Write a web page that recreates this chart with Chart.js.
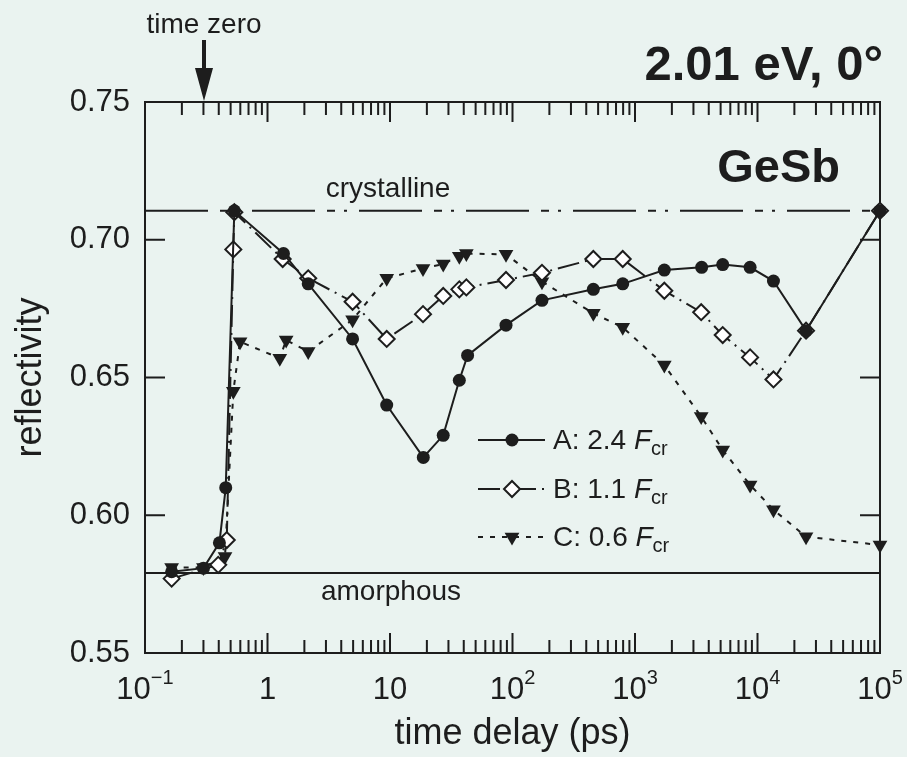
<!DOCTYPE html>
<html>
<head>
<meta charset="utf-8">
<script src="https://cdn.jsdelivr.net/npm/chart.js@4.4.1/dist/chart.umd.min.js"></script>
<style>
  html, body { margin: 0; padding: 0; background: #eaf3f0; }
  #wrap { width: 907px; height: 757px; position: relative; }
</style>
</head>
<body>
<div id="wrap"><canvas id="reflChart"></canvas></div>
<script>
// ----- Data: time delay (ps) and reflectivity
const timesA = [0.165, 0.30, 0.405, 0.456, 0.536, 1.35, 2.15, 4.95, 9.4, 18.7, 27.2, 36.8, 43, 88.5, 174, 457, 794, 1735, 3500, 5200, 8700, 13500, 24900, 100000];
const reflA  = [0.5795, 0.5808, 0.590, 0.610, 0.7105, 0.695, 0.684, 0.664, 0.640, 0.621, 0.629, 0.649, 0.658, 0.669, 0.678, 0.682, 0.684, 0.689, 0.690, 0.691, 0.690, 0.685, 0.667, 0.7105];

const timesB = [0.165, 0.396, 0.465, 0.526, 0.536, 1.33, 2.15, 4.95, 9.4, 18.6, 27.2, 36.8, 42, 88.5, 174, 457, 794, 1735, 3470, 5200, 8700, 13500, 24900, 100000];
const reflB  = [0.577, 0.582, 0.591, 0.6965, 0.710, 0.693, 0.686, 0.6775, 0.664, 0.673, 0.6796, 0.682, 0.6827, 0.6854, 0.688, 0.693, 0.693, 0.6815, 0.6737, 0.6654, 0.6573, 0.6493, 0.667, 0.7105];

const timesC = [0.165, 0.30, 0.45, 0.526, 0.597, 1.26, 1.42, 2.15, 4.95, 9.4, 18.6, 27.2, 36.8, 42, 88.5, 174, 457, 794, 1735, 3470, 5200, 8700, 13500, 24900, 100000];
const reflC  = [0.581, 0.581, 0.585, 0.645, 0.663, 0.657, 0.6636, 0.6594, 0.671, 0.686, 0.6896, 0.6912, 0.694, 0.695, 0.6947, 0.6848, 0.6733, 0.6682, 0.6545, 0.6358, 0.6237, 0.611, 0.602, 0.5922, 0.5892];

const crystallineLevel = 0.7105;
const amorphousLevel = 0.579;

// x axis: decades and their labels (base, exponent)
const decades = [-1, 0, 1, 2, 3, 4, 5];
const decadeLabels = [['10', '\u22121'], ['1', ''], ['10', ''], ['10', '2'], ['10', '3'], ['10', '4'], ['10', '5']];
const minorSteps = [2, 3, 4, 5, 6, 7, 8, 9];

const legendNames = ['A: 2.4 ', 'B: 1.1 ', 'C: 0.6 '];

const ink = '#1d1d1d';
const bg = '#eaf3f0';
const FONT = '"Liberation Sans", Arial, Helvetica, sans-serif';

const dashA = [];
const dashB = [22, 6, 2, 6];
const dashC = [5, 7];
const dashCryst = [63, 12, 8, 9, 3, 12];

function pts(xs, ys) { return xs.map((x, i) => ({ x, y: ys[i] })); }
const xMin = 10 ** decades[0], xMax = 10 ** decades[decades.length - 1];

// ----- small marker helpers for the hand-drawn legend
function mark(c, style, x, y) {
    c.save();
    c.setLineDash([]);
    c.fillStyle = ink; c.strokeStyle = ink; c.lineWidth = 2;
    c.beginPath();
    if (style === 'circle') {
        c.arc(x, y, 6.5, 0, Math.PI * 2); c.fill();
    } else if (style === 'diamond') {
        c.moveTo(x, y - 8); c.lineTo(x + 8, y); c.lineTo(x, y + 8); c.lineTo(x - 8, y); c.closePath();
        c.fillStyle = '#fff'; c.fill(); c.stroke();
    } else {
        c.moveTo(x - 7.4, y - 4.25); c.lineTo(x + 7.4, y - 4.25); c.lineTo(x, y + 8.5); c.closePath(); c.fill();
    }
    c.restore();
}

const decor = {
    id: 'decor',
    beforeDraw(chart) {
        const c = chart.ctx;
        c.save(); c.fillStyle = bg; c.fillRect(0, 0, chart.width, chart.height); c.restore();
    },
    beforeDatasetsDraw(chart) {
        const { ctx: c, chartArea: a, scales: { x, y } } = chart;
        c.save();
        c.strokeStyle = ink; c.lineWidth = 2;
        c.strokeRect(a.left, a.top, a.right - a.left, a.bottom - a.top);
        c.beginPath();
        decades.forEach((d, i) => {
            const px = x.getPixelForValue(10 ** d);
            c.moveTo(px, a.bottom); c.lineTo(px, a.bottom - 20);
            c.moveTo(px, a.top); c.lineTo(px, a.top + 20);
            if (i < decades.length - 1) {
                minorSteps.forEach(m => {
                    const p = x.getPixelForValue(m * 10 ** d);
                    c.moveTo(p, a.bottom); c.lineTo(p, a.bottom - 13);
                    c.moveTo(p, a.top); c.lineTo(p, a.top + 13);
                });
            }
        });
        y.ticks.forEach(t => {
            const py = y.getPixelForValue(t.value);
            c.moveTo(a.left, py); c.lineTo(a.left + 20, py);
            c.moveTo(a.right, py); c.lineTo(a.right - 20, py);
        });
        c.stroke();
        c.restore();
    },
    afterDatasetsDraw(chart) {
        const { ctx: c, scales: { x } } = chart;
        c.save();
        c.fillStyle = ink;
        c.textBaseline = 'alphabetic';

        // x tick labels with superscripts
        decades.forEach((d, i) => {
            const [base, sup] = decadeLabels[i];
            const px = x.getPixelForValue(10 ** d);
            c.font = `31px ${FONT}`;
            const wb = c.measureText(base).width;
            c.font = `20px ${FONT}`;
            const ws = sup ? c.measureText(sup).width : 0;
            const x0 = px - (wb + ws) / 2;
            c.textAlign = 'left';
            c.font = `31px ${FONT}`;
            c.fillText(base, x0, 699);
            if (sup) { c.font = `20px ${FONT}`; c.fillText(sup, x0 + wb, 684); }
        });

        // reference-level labels
        c.textAlign = 'center';
        c.font = `28px ${FONT}`;
        c.fillText('crystalline', 388, 197);
        c.fillText('amorphous', 391, 600);

        c.textAlign = 'right';
        c.font = `bold 47px ${FONT}`;
        c.fillText('GeSb', 840, 182);
        c.font = `bold 49px ${FONT}`;
        c.fillText('2.01 eV, 0\u00b0', 883, 80);

        // time zero marker
        c.textAlign = 'center';
        c.font = `28px ${FONT}`;
        c.fillText('time zero', 204, 33);
        c.fillRect(202, 40, 4, 30);
        c.beginPath();
        c.moveTo(195, 68); c.lineTo(213, 68); c.lineTo(204, 101); c.closePath(); c.fill();

        // legend
        const rows = [440, 489, 537];
        const dashes = [dashA, dashB, dashC];
        const styles = ['circle', 'diamond', 'triangle'];
        rows.forEach((ry, i) => {
            c.save();
            c.strokeStyle = ink; c.lineWidth = 2; c.setLineDash(dashes[i]);
            c.beginPath(); c.moveTo(478, ry); c.lineTo(545, ry); c.stroke();
            c.restore();
            mark(c, styles[i], 512, ry);
            let tx = 553;
            const yb = ry + 9;
            c.textAlign = 'left';
            c.font = `28px ${FONT}`;
            c.fillText(legendNames[i], tx, yb); tx += c.measureText(legendNames[i]).width;
            c.font = `italic 28px ${FONT}`;
            c.fillText('F', tx, yb); tx += c.measureText('F').width;
            c.font = `20px ${FONT}`;
            c.fillText('cr', tx, yb + 6);
        });
        c.restore();
    }
};

const ctx = document.getElementById('reflChart');
new Chart(ctx, {
    type: 'line',
    data: {
        datasets: [
            {
                label: 'A', data: pts(timesA, reflA),
                borderColor: ink, borderWidth: 2, borderDash: dashA,
                pointStyle: 'circle', pointRadius: 6.5, pointBackgroundColor: ink, pointBorderColor: ink, pointBorderWidth: 0,
                clip: false
            },
            {
                label: 'B', data: pts(timesB, reflB),
                borderColor: ink, borderWidth: 2, borderDash: dashB,
                pointStyle: 'rectRot', pointRadius: 8, pointBackgroundColor: '#fff', pointBorderColor: ink, pointBorderWidth: 2,
                clip: false
            },
            {
                label: 'C', data: pts(timesC, reflC),
                borderColor: ink, borderWidth: 2, borderDash: dashC,
                pointStyle: 'triangle', pointRotation: 180, pointRadius: 8.5, pointBackgroundColor: ink, pointBorderColor: ink, pointBorderWidth: 0,
                clip: false
            },
            {
                label: 'crystalline', data: pts([xMin, xMax], [crystallineLevel, crystallineLevel]),
                borderColor: ink, borderWidth: 2, borderDash: dashCryst, pointRadius: 0
            },
            {
                label: 'amorphous', data: pts([xMin, xMax], [amorphousLevel, amorphousLevel]),
                borderColor: ink, borderWidth: 2, pointRadius: 0
            }
        ]
    },
    options: {
        responsive: true,
        maintainAspectRatio: false,
        animation: false,
        events: [],
        layout: { padding: { top: 102, right: 27, left: 0, bottom: 0 } },
        plugins: { legend: { display: false }, tooltip: { enabled: false } },
        elements: { line: { tension: 0 } },
        scales: {
            x: {
                type: 'logarithmic', min: xMin, max: xMax,
                ticks: { display: false },
                grid: { display: false, drawTicks: false },
                border: { display: false },
                title: { display: true, text: 'time delay (ps)', color: ink, font: { family: FONT, size: 36 }, padding: { top: 0, bottom: 1 } },
                afterFit(s) { s.height = 104; }
            },
            y: {
                min: 0.55, max: 0.75,
                ticks: { stepSize: 0.05, callback: v => v.toFixed(2), color: ink, font: { family: FONT, size: 31 }, padding: 15 },
                grid: { display: false, drawTicks: false },
                border: { display: false },
                title: { display: true, text: 'reflectivity', color: ink, font: { family: FONT, size: 36 }, padding: { top: 9, bottom: 0 } },
                afterFit(s) { s.width = 145; }
            }
        }
    },
    plugins: [decor]
});
</script>
</body>
</html>
